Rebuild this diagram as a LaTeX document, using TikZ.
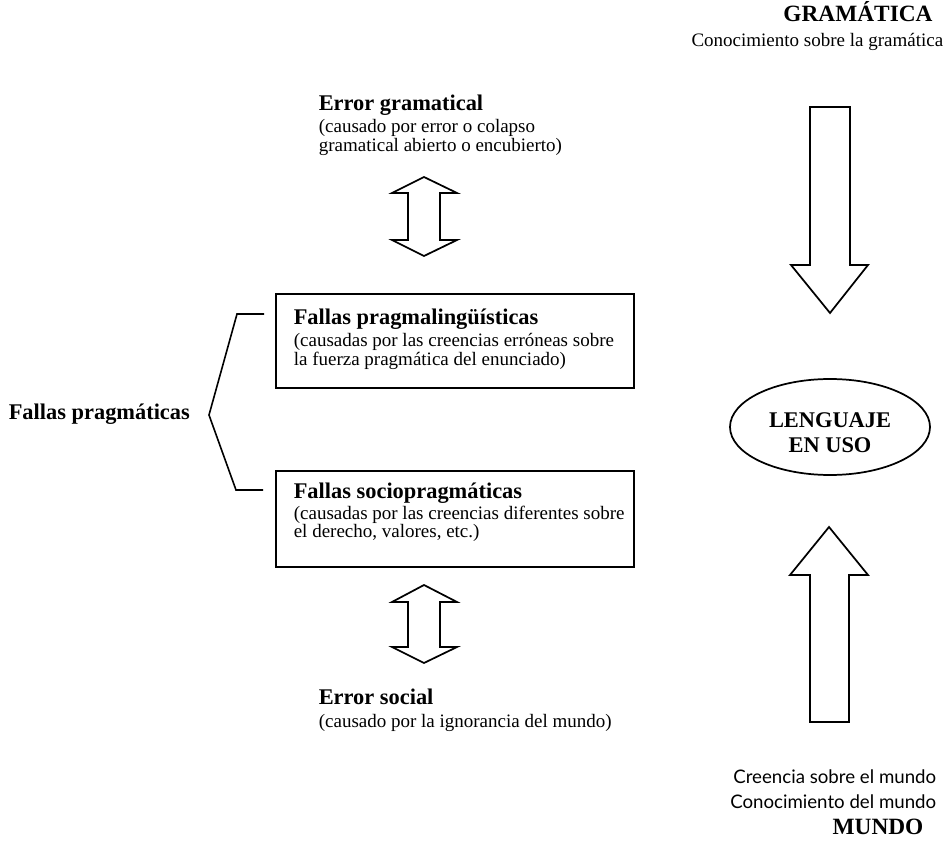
\documentclass[tikz,border=0pt]{standalone}
\usepackage{fontspec}
\setmainfont{Liberation Serif}
\newfontfamily\optfont{Lato}
\begin{document}
\begin{tikzpicture}[x=0.75pt,y=-0.75pt,line width=1.2pt,
  bold/.style={font=\fontsize{16.8}{18}\selectfont\bfseries,inner sep=0pt},
  bigbold/.style={font=\fontsize{17.5}{19}\selectfont\bfseries,inner sep=0pt},
  reg/.style={font=\fontsize{14.25}{16}\selectfont,inner sep=0pt},
  sans/.style={font=\fontsize{14}{16}\selectfont\optfont,inner sep=0pt},
  boxst/.style={draw,line width=1.3pt,inner sep=0pt,minimum width=268pt},
  blockarrow/.style={draw,line width=1.3pt,line join=miter,fill=white}]
\useasboundingbox (0,0) rectangle (946,841);

% top right
\node[bigbold,anchor=base] (gram) at (858,22) {GRAMÁTICA};
\node[reg,anchor=base east] (conog) at (944,47) {Conocimiento sobre la gramática};

% error gramatical
\node[bold,anchor=base west] (eg) at (318,111) {Error gramatical};
\node[reg,anchor=base west] (eg1) at (318,133) {(causado por error o colapso};
\node[reg,anchor=base west] (eg2) at (318,152) {gramatical abierto o encubierto)};

% boxes
\node[boxst,minimum height=70.5pt] (box1) at (455,341) {};
\node[bold,anchor=base west] (b1a) at (293,325) {Fallas pragmalingüísticas};
\node[reg,anchor=base west] (b1b) at (293,347) {(causadas por las creencias erróneas sobre};
\node[reg,anchor=base west] (b1c) at (293,366) {la fuerza pragmática del enunciado)};

\node[boxst,minimum height=72pt] (box2) at (455,519) {};
\node[bold,anchor=base west] (b2a) at (293,498) {Fallas sociopragmáticas};
\node[reg,anchor=base west] (b2b) at (293,519) {(causadas por las creencias diferentes sobre};
\node[reg,anchor=base west] (b2c) at (293,537) {el derecho, valores, etc.)};

% error social
\node[bold,anchor=base west] (es) at (318,704) {Error social};
\node[reg,anchor=base west] (es1) at (318,727) {(causado por la ignorancia del mundo)};

% fallas pragmaticas + bracket
\node[bold,anchor=base west] (fp) at (8,420) {Fallas pragmáticas};
\draw[line width=1.2pt,line join=miter] (264,314) -- (237,314) -- (209,415) -- (236,490) -- (263,490);

% double arrows
\draw[blockarrow] (408,193) -- (392,193) -- (424,177) -- (457,193) -- (440,193) -- (440,240) -- (457,240) -- (424,256) -- (392,240) -- (408,240) -- cycle;
\draw[blockarrow] (408,602) -- (392,602) -- (424,585) -- (457,602) -- (440,602) -- (440,647) -- (457,647) -- (424,663) -- (392,647) -- (408,647) -- cycle;

% big arrows
\draw[blockarrow] (810,107) -- (850,107) -- (850,265) -- (868,265) -- (830,313) -- (791,265) -- (810,265) -- cycle;
\draw[blockarrow] (810,722) -- (849,722) -- (849,575) -- (868,575) -- (829,527) -- (790,575) -- (810,575) -- cycle;

% ellipse
\draw[line width=1.3pt] (830,427) ellipse [x radius=100, y radius=48];
\node[bold,anchor=base] (len1) at (830,427) {LENGUAJE};
\node[bold,anchor=base] (len2) at (830,453) {EN USO};

% bottom right
\node[sans,anchor=base east] (cre) at (937,783) {Creencia sobre el mundo};
\node[sans,anchor=base east] (con) at (937,808) {Conocimiento del mundo};
\node[bigbold,anchor=base] (mun) at (878,834) {MUNDO};
\end{tikzpicture}
\end{document}
